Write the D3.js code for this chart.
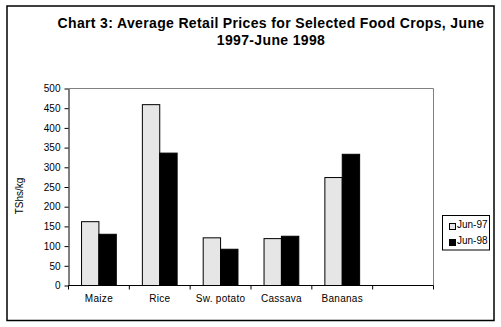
<!DOCTYPE html>
<html>
<head>
<meta charset="utf-8">
<script src="https://cdn.jsdelivr.net/npm/d3@7"></script>
<style>
  html, body { margin: 0; padding: 0; background: #fff; }
  svg { display: block; font-family: "Liberation Sans", Arial, sans-serif; }
</style>
</head>
<body>
<svg id="chart" width="501" height="327"></svg>
<script>
// Average retail prices (TShs/kg) by crop
const categories = ["Maize", "Rice", "Sw. potato", "Cassava", "Bananas", ""];
const seriesNames = ["Jun-97", "Jun-98"];
const jun97 = [162, 459, 121, 119, 274];
const jun98 = [130, 336, 92, 125, 333];
const yTicks = [0, 50, 100, 150, 200, 250, 300, 350, 400, 450, 500];
const titleLines = ["Chart 3: Average Retail Prices for Selected Food Crops, June", "1997-June 1998"];
const yLabel = "TShs/kg";

const colors = { "Jun-97": "#e6e6e6", "Jun-98": "#000000" };

const svg = d3.select("#chart");

// outer frame
svg.append("rect")
  .attr("x", 7).attr("y", 6).attr("width", 487).attr("height", 314.5)
  .attr("fill", "none").attr("stroke", "#000").attr("stroke-width", 1.5);

// title
const title = svg.append("text")
  .attr("text-anchor", "middle")
  .attr("font-weight", "bold")
  .attr("font-size", 14)
  .attr("letter-spacing", 0.35)
  .attr("fill", "#000");
titleLines.forEach((t, i) => {
  title.append("tspan").attr("x", 271).attr("y", 28 + i * 17).text(t);
});

// plot area
const plot = { left: 68.5, right: 433.5, top: 88.5, bottom: 285.5 };

const x0 = d3.scaleBand()
  .domain(categories)
  .range([plot.left, plot.right])
  .paddingInner(0).paddingOuter(0);

const x1 = d3.scaleBand()
  .domain(seriesNames)
  .range([0, x0.bandwidth()])
  .paddingInner(0)
  .paddingOuter(0.75);

const y = d3.scaleLinear()
  .domain([0, 500])
  .range([plot.bottom, plot.top]);

// plot area frame (top and right edges)
svg.append("path")
  .attr("d", `M${plot.left},${plot.top}H${plot.right}V${plot.bottom}`)
  .attr("fill", "none").attr("stroke", "#808080").attr("stroke-width", 1);

// bars
const rows = categories.slice(0, jun97.length).map((c, i) => ({
  cat: c, values: [{ s: "Jun-97", v: jun97[i] }, { s: "Jun-98", v: jun98[i] }]
}));

const groups = svg.append("g").selectAll("g")
  .data(rows).join("g")
  .attr("transform", d => `translate(${x0(d.cat)},0)`);

groups.selectAll("rect")
  .data(d => d.values).join("rect")
  .attr("x", d => x1(d.s))
  .attr("y", d => y(d.v))
  .attr("width", x1.bandwidth())
  .attr("height", d => y(0) - y(d.v))
  .attr("fill", d => colors[d.s])
  .attr("stroke", "#000")
  .attr("stroke-width", 1);

// y axis
const yAxis = svg.append("g")
  .attr("transform", `translate(${plot.left},0)`)
  .call(d3.axisLeft(y).tickValues(yTicks).tickSize(4).tickPadding(4).tickSizeOuter(0));
yAxis.selectAll("text").attr("font-size", 10).attr("font-family", "Liberation Sans, Arial, sans-serif").attr("fill", "#000");
yAxis.selectAll("line, path").attr("stroke", "#000");

// x axis with ticks at category boundaries
const xAxisG = svg.append("g");
xAxisG.append("line")
  .attr("x1", plot.left).attr("x2", plot.right)
  .attr("y1", plot.bottom).attr("y2", plot.bottom)
  .attr("stroke", "#000");
const boundaries = categories.map(c => x0(c)).concat([plot.right]);
xAxisG.selectAll("line.tick")
  .data(boundaries).join("line")
  .attr("class", "tick")
  .attr("x1", d => d).attr("x2", d => d)
  .attr("y1", plot.bottom).attr("y2", plot.bottom + 4)
  .attr("stroke", "#000");
xAxisG.selectAll("text")
  .data(categories).join("text")
  .attr("x", d => x0(d) + x0.bandwidth() / 2)
  .attr("y", plot.bottom + 16)
  .attr("text-anchor", "middle")
  .attr("font-size", 10)
  .attr("letter-spacing", 0.3)
  .attr("fill", "#000")
  .text(d => d);

// y axis title
svg.append("text")
  .attr("transform", "translate(23,196) rotate(-90)")
  .attr("text-anchor", "middle")
  .attr("font-size", 10)
  .attr("fill", "#000")
  .text(yLabel);

// legend
const legend = svg.append("g");
legend.append("rect")
  .attr("x", 442.5).attr("y", 215.5).attr("width", 47).attr("height", 34.5)
  .attr("fill", "#fff").attr("stroke", "#000").attr("stroke-width", 1);
seriesNames.forEach((s, i) => {
  legend.append("rect")
    .attr("x", 449.5).attr("y", 223.5 + i * 16).attr("width", 6).attr("height", 6)
    .attr("fill", colors[s]).attr("stroke", "#000");
  legend.append("text")
    .attr("x", 457).attr("y", 228 + i * 16)
    .attr("font-size", 10)
    .attr("fill", "#000")
    .text(s);
});
</script>
</body>
</html>
